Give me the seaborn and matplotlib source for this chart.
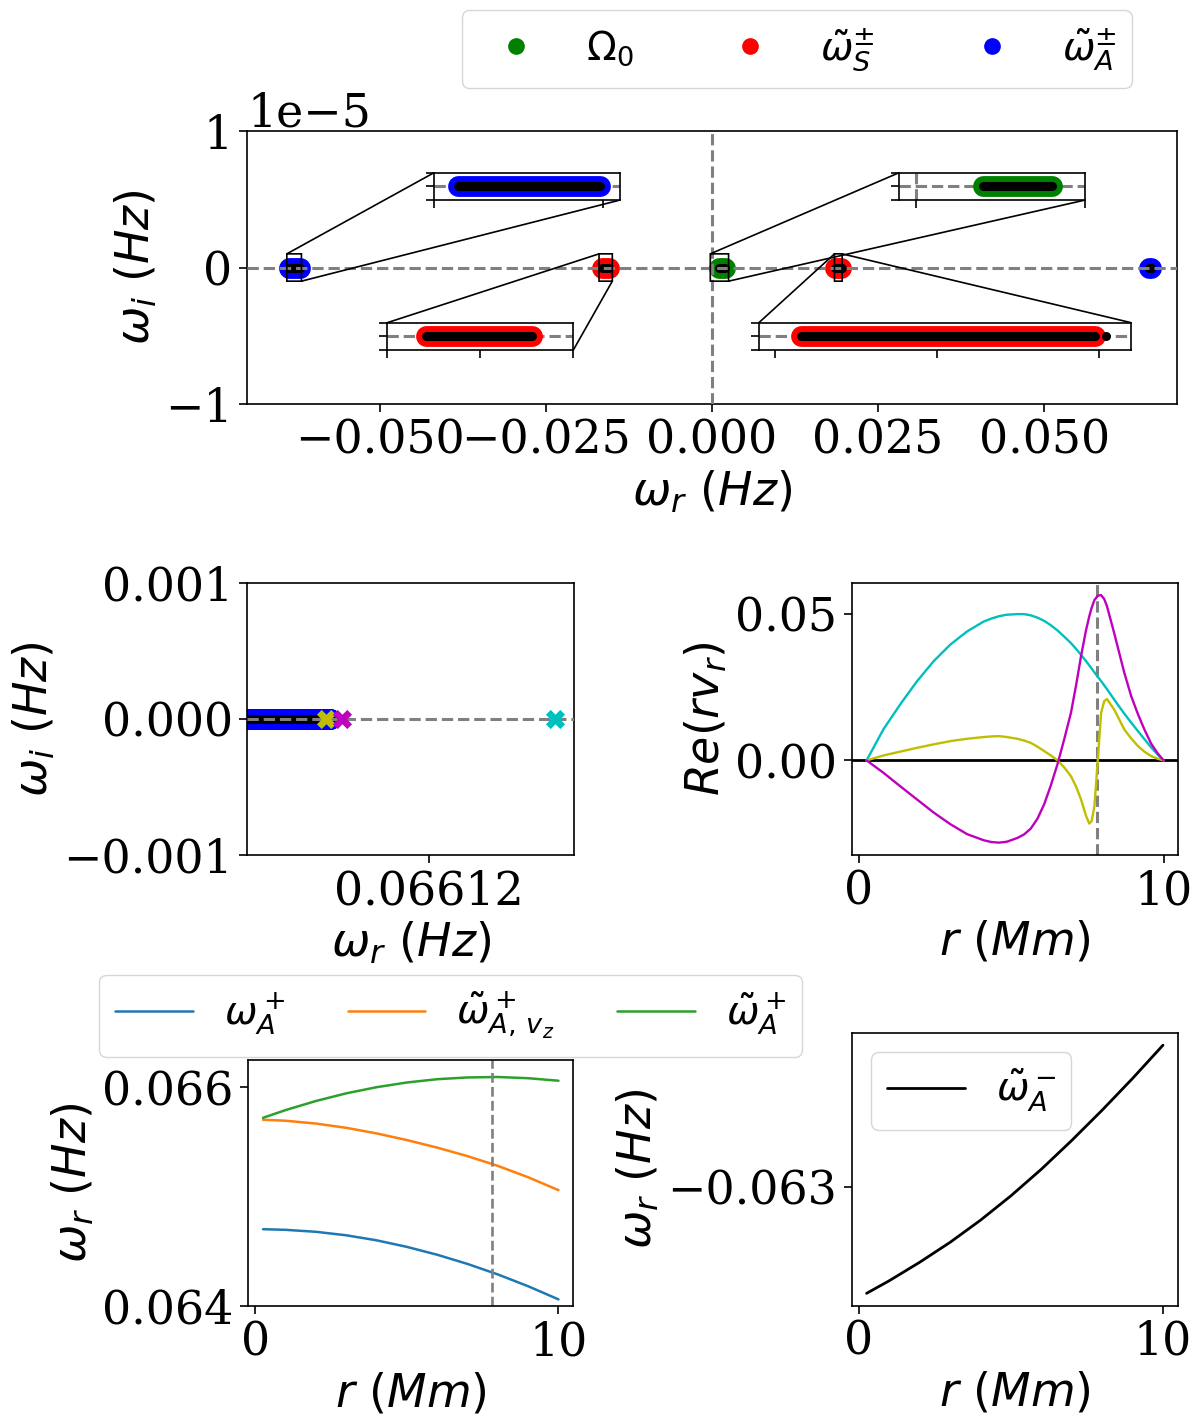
import numpy as np
import pandas as pd
import matplotlib.pyplot as plt
from matplotlib.lines import Line2D
import seaborn as sns

# ---- data ----
r_cont = [0.25, 1, 2, 3, 4, 5, 6, 7, 8, 9, 10]
w_A_plus = [0.064703, 0.064697, 0.064679, 0.064647, 0.064601, 0.064541,
            0.064469, 0.064385, 0.064289, 0.064181, 0.064061]
wt_A_vz_plus = [0.065704, 0.065695, 0.065669, 0.065630, 0.065579, 0.065518,
                0.065449, 0.065371, 0.065282, 0.065178, 0.065060]
wt_A_plus = [0.065722, 0.065793, 0.065876, 0.065946, 0.066002, 0.066045,
             0.066075, 0.066091, 0.066095, 0.066084, 0.066061]
wt_A_minus = [-0.063720, -0.063634, -0.063509, -0.063374, -0.063224, -0.063059,
              -0.062879, -0.062684, -0.062479, -0.062264, -0.062039]
omega0 = [0.00100, 0.00108, 0.00119, 0.00129, 0.00139, 0.00149,
          0.00160, 0.00172, 0.00182, 0.00192, 0.00202]
wt_S_plus = [0.01858, 0.01866, 0.01876, 0.01885, 0.01895, 0.01905,
             0.01915, 0.01926, 0.01936, 0.01944, 0.01949]
wt_S_minus = [-0.01658, -0.01649, -0.01638, -0.01627, -0.01616, -0.01604,
              -0.01592, -0.01580, -0.01568, -0.01556, -0.01544]

# discrete eigenvalues (real part), imaginary part zero
discrete_modes = [0.019523, 0.066094, 0.066098, 0.066152]
picked_modes = [0.066094, 0.066098, 0.066152]
picked_colors = ['y', 'm', 'c']

r_res = 7.8

# eigenfunctions Re(r v_r)
r_ef = [0.25, 0.8, 1.35, 1.9, 2.45, 3.0, 3.55, 4.1, 4.35, 4.6, 4.85, 5.2, 5.42,
        5.64, 5.86, 6.08, 6.3, 6.52, 6.74, 6.96, 7.13, 7.29, 7.45, 7.56, 7.64,
        7.73, 7.84, 7.95, 8.05, 8.14, 8.38, 8.71, 8.94, 9.16, 9.37, 9.59, 9.8,
        10.0]
ef_cyan = [0, 0.0106, 0.0191, 0.0270, 0.0339, 0.0396, 0.0441, 0.0475, 0.0485,
           0.0493, 0.0498, 0.0500, 0.0500, 0.0496, 0.0488, 0.0477, 0.0462,
           0.0444, 0.0423, 0.0401, 0.0381, 0.0361, 0.0340, 0.0325, 0.0314,
           0.0301, 0.0286, 0.0271, 0.0257, 0.0244, 0.0208, 0.0160, 0.0129,
           0.0100, 0.0073, 0.0045, 0.0021, 0]
ef_magenta = [0, -0.0042, -0.0088, -0.0133, -0.0178, -0.0218, -0.0252, -0.0273,
              -0.0279, -0.0281, -0.0278, -0.0265, -0.0253, -0.0233, -0.0199,
              -0.0150, -0.0085, -0.0012, 0.0073, 0.0163, 0.0258, 0.0356, 0.0443,
              0.0492, 0.0522, 0.0548, 0.0563, 0.0565, 0.0552, 0.0528, 0.0435,
              0.0300, 0.0219, 0.0158, 0.0106, 0.0058, 0.0025, 0]
ef_yellow = [0, 0.0017, 0.0030, 0.0043, 0.0055, 0.0066, 0.0074, 0.0080, 0.0082,
             0.0083, 0.0080, 0.0074, 0.0068, 0.0060, 0.0047, 0.0032, 0.0017,
             0.0000, -0.0024, -0.0054, -0.0090, -0.0133, -0.0188, -0.0216,
             -0.0207, -0.0156, 0.0000, 0.0163, 0.0202, 0.0210, 0.0174, 0.0106,
             0.0075, 0.0049, 0.0030, 0.0015, 0.0006, 0]

# ---- style ----
sns.set_style("ticks")
plt.rcParams.update({
    "font.family": "serif",
    "font.serif": ["DejaVu Serif"],
    "mathtext.fontset": "dejavusans",
    "font.size": 33,
    "axes.labelsize": 33,
    "xtick.labelsize": 33,
    "ytick.labelsize": 33,
    "legend.fontsize": 28,
    "axes.linewidth": 1.2,
    "axes.edgecolor": "black",
    "xtick.color": "black",
    "ytick.color": "black",
    "text.color": "black",
    "axes.labelcolor": "black",
    "xtick.major.size": 5.5,
    "ytick.major.size": 5.5,
    "xtick.major.width": 1.2,
    "ytick.major.width": 1.2,
    "xtick.major.pad": 4.5,
    "ytick.major.pad": 5,
})

continua = [(omega0, 'green'), (wt_S_plus, 'red'), (wt_S_minus, 'red'),
            (wt_A_plus, 'blue'), (wt_A_minus, 'blue')]


def draw_spectrum(ax, dashes_on_top=True):
    z_dash = 4 if dashes_on_top else 1
    for vals, col in continua:
        ax.plot(vals, np.zeros(len(vals)), color=col, lw=15,
                solid_capstyle='round', zorder=2)
        ax.plot(vals, np.zeros(len(vals)), color='black', lw=6.5,
                solid_capstyle='round', zorder=3)
    ax.scatter(discrete_modes, np.zeros(len(discrete_modes)), color='black',
               s=42, zorder=3, linewidths=0)
    ax.axhline(0, color='gray', ls='--', lw=2.2, zorder=z_dash)
    ax.axvline(0, color='gray', ls='--', lw=2.2, zorder=z_dash)


fig = plt.figure(figsize=(12, 14.21), dpi=100)

# ---- top: full spectrum ----
ax_top = fig.add_axes([0.2058, 0.7157, 0.775, 0.1921])
draw_spectrum(ax_top)
ax_top.set_xlim(-0.07, 0.07)
ax_top.set_ylim(-1e-5, 1e-5)
ax_top.set_xticks([-0.05, -0.025, 0, 0.025, 0.05])
ax_top.set_yticks([-1e-5, 0, 1e-5])
ax_top.set_xlabel(r'$\omega_r\ (Hz)$')
ax_top.set_ylabel(r'$\omega_i\ (Hz)$')

insets = [
    ([0.201, 0.747, 0.2, 0.1], (-0.064, -0.0618), [-0.064, -0.062]),
    ([0.151, 0.198, 0.2, 0.1], (-0.017, -0.015), [-0.017, -0.016, -0.015]),
    ([0.701, 0.747, 0.2, 0.1], (-0.00025, 0.0025), [0, 0.0025]),
    ([0.5505, 0.198, 0.4, 0.1], (0.01845, 0.0196), [0.0185, 0.019, 0.0195]),
]
for rect, xl, xt in insets:
    ins = ax_top.inset_axes(rect)
    draw_spectrum(ins, dashes_on_top=False)
    ins.set_xlim(*xl)
    ins.set_ylim(-1e-6, 1e-6)
    ins.set_xticks(xt)
    ins.set_yticks([-1e-6, 0, 1e-6])
    ins.set_xticklabels([])
    ins.set_yticklabels([])
    ax_top.indicate_inset_zoom(ins, edgecolor='black', alpha=1, linewidth=1.2)

handles = [Line2D([], [], marker='o', ls='none', color=c, markersize=11)
           for c in ['green', 'red', 'blue']]
ax_top.legend(handles, [r'$\Omega_0$', r'$\tilde{\omega}_S^{\pm}$',
                        r'$\tilde{\omega}_A^{\pm}$'],
              ncol=3, loc='lower center', bbox_to_anchor=(0.664, 0.938),
              bbox_transform=fig.transFigure, borderaxespad=0)

# ---- middle left: zoom near the Alfven continuum edge ----
ax_ml = fig.add_axes([0.2061, 0.3983, 0.2725, 0.1916])
ax_ml.plot(wt_A_plus, np.zeros(len(wt_A_plus)), color='blue', lw=15,
           solid_capstyle='round', zorder=2)
ax_ml.plot(wt_A_plus, np.zeros(len(wt_A_plus)), color='black', lw=6.5,
           solid_capstyle='round', zorder=3)
ax_ml.axhline(0, color='gray', ls='--', lw=2.2, zorder=4)
for val, col in zip(picked_modes, picked_colors):
    sns.scatterplot(x=[val], y=[0], color=col, marker='X', s=190,
                    linewidth=0, ax=ax_ml, zorder=5)
ax_ml.set_xlim(0.066074, 0.066157)
ax_ml.set_ylim(-0.001, 0.001)
ax_ml.set_xticks([0.06612])
ax_ml.set_xticklabels(['0.06612'])
ax_ml.set_yticks([-0.001, 0, 0.001])
ax_ml.set_xlabel(r'$\omega_r\ (Hz)$')
ax_ml.set_ylabel(r'$\omega_i\ (Hz)$')

# ---- middle right: eigenfunctions ----
ax_mr = fig.add_axes([0.7098, 0.3983, 0.2722, 0.1916])
ax_mr.axhline(0, color='black', lw=2)
ax_mr.axvline(r_res, color='gray', ls='--', lw=2.2)
for vals, col in [(ef_cyan, 'c'), (ef_yellow, 'y'), (ef_magenta, 'm')]:
    sns.lineplot(x=r_ef, y=vals, color=col, lw=1.7, ax=ax_mr)
ax_mr.set_xticks([0, 10])
ax_mr.set_yticks([0, 0.05])
ax_mr.set_xlabel(r'$r\ (Mm)$')
ax_mr.set_ylabel(r'$Re(rv_r)$')

# ---- bottom left: Alfven frequencies ----
ax_bl = fig.add_axes([0.2069, 0.0809, 0.2708, 0.1731])
sns.lineplot(x=r_cont, y=w_A_plus, color='tab:blue', lw=1.8, ax=ax_bl,
             label=r'$\omega_A^+$')
sns.lineplot(x=r_cont, y=wt_A_vz_plus, color='tab:orange', lw=1.8, ax=ax_bl,
             label=r'$\tilde{\omega}_{A,\,v_z}^+$')
sns.lineplot(x=r_cont, y=wt_A_plus, color='tab:green', lw=1.8, ax=ax_bl,
             label=r'$\tilde{\omega}_A^+$')
ax_bl.axvline(r_res, color='gray', ls='--', lw=1.9)
ax_bl.set_ylim(0.064, 0.06625)
ax_bl.set_xticks([0, 10])
ax_bl.set_yticks([0.064, 0.066])
ax_bl.set_xlabel(r'$r\ (Mm)$')
ax_bl.set_ylabel(r'$\omega_r\ (Hz)$')
h, l = ax_bl.get_legend_handles_labels()
ax_bl.legend(h, l, ncol=3, loc='lower center', bbox_to_anchor=(0.3754, 0.2562),
             bbox_transform=fig.transFigure, borderaxespad=0,
             columnspacing=1.6)

# ---- bottom right: backward Alfven continuum ----
ax_br = fig.add_axes([0.7098, 0.0811, 0.2717, 0.1921])
sns.lineplot(x=r_cont, y=wt_A_minus, color='black', lw=2, ax=ax_br,
             label=r'$\tilde{\omega}_A^-$')
ax_br.set_xticks([0, 10])
ax_br.set_yticks([-0.063])
ax_br.set_xlabel(r'$r\ (Mm)$')
ax_br.set_ylabel(r'$\omega_r\ (Hz)$')
ax_br.legend(loc='upper left')

fig.savefig('out.png', dpi=100)
